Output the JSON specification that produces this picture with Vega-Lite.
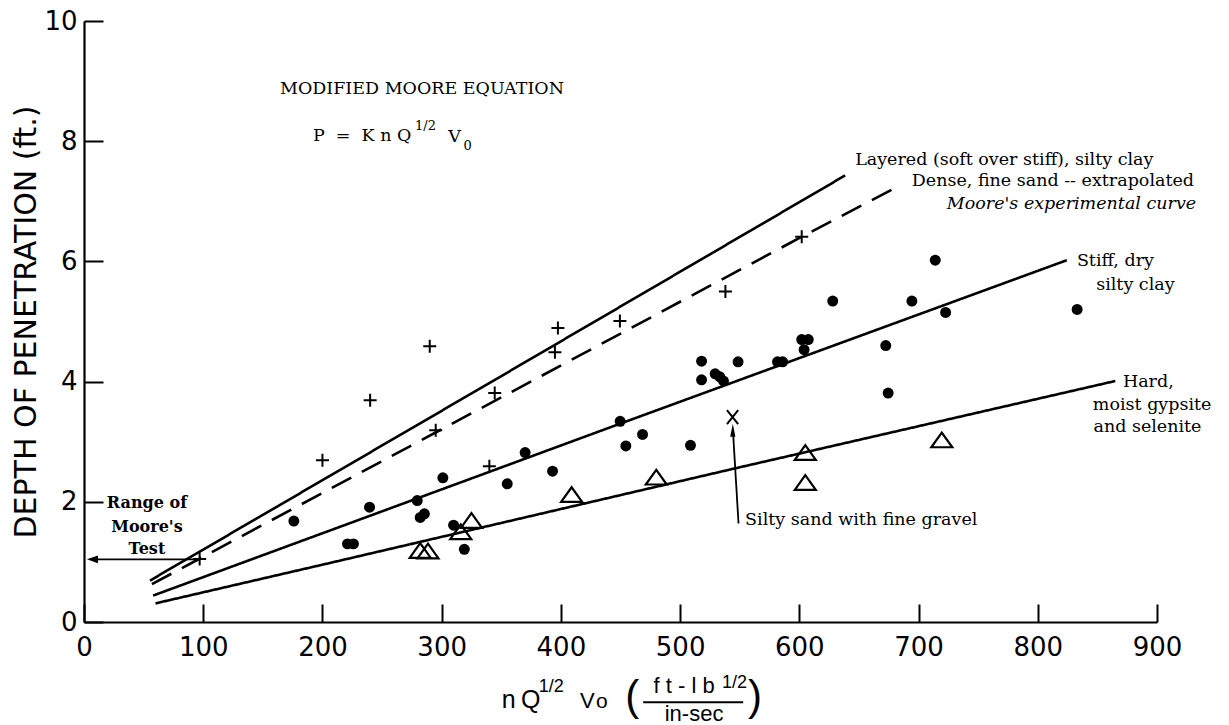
{
  "$schema": "https://vega.github.io/schema/vega-lite/v6.json",
  "width": 1073,
  "height": 601,
  "autosize": {"type": "none"},
  "padding": {"left": 84, "top": 21, "right": 72, "bottom": 103},
  "background": "white",
  "config": {"view": {"stroke": null}},
  "encoding": {
    "x": {
      "field": "x", "type": "quantitative",
      "scale": {"domain": [0, 900], "nice": false, "zero": false},
      "axis": {
        "values": [0, 100, 200, 300, 400, 500, 600, 700, 800, 900],
        "tickSize": -18, "tickWidth": 2, "tickColor": "black",
        "domainColor": "black", "domainWidth": 2.2,
        "labelFont": "DejaVu Sans", "labelFontSize": 26, "labelColor": "black",
        "labelPadding": 30, "labelFlush": false, "grid": false, "title": null
      }
    },
    "y": {
      "field": "y", "type": "quantitative",
      "scale": {"domain": [0, 10], "nice": false, "zero": false},
      "axis": {
        "values": [0, 2, 4, 6, 8, 10],
        "tickSize": -19, "tickWidth": 2, "tickColor": "black",
        "domainColor": "black", "domainWidth": 2.2,
        "labelFont": "DejaVu Sans", "labelFontSize": 26, "labelColor": "black",
        "labelPadding": 26, "labelFlush": false, "grid": false,
        "title": "DEPTH OF PENETRATION (ft.)",
        "titleFont": "DejaVu Sans", "titleFontSize": 30, "titleFontWeight": "normal",
        "titleColor": "black", "titleX": -49, "titleBaseline": "alphabetic"
      }
    }
  },
  "layer": [
    {
      "data": {"values": [
        {"curve": "layered", "x": 55.4, "y": 0.69},
        {"curve": "layered", "x": 349, "y": 4.08},
        {"curve": "layered", "x": 638.4, "y": 7.43},
        {"curve": "dense", "x": 57, "y": 0.63},
        {"curve": "dense", "x": 602, "y": 6.41},
        {"curve": "dense", "x": 686, "y": 7.28},
        {"curve": "stiff", "x": 58, "y": 0.44},
        {"curve": "stiff", "x": 332, "y": 2.44},
        {"curve": "stiff", "x": 449.7, "y": 3.3},
        {"curve": "stiff", "x": 824.4, "y": 6.02},
        {"curve": "hard", "x": 60, "y": 0.31},
        {"curve": "hard", "x": 203.6, "y": 0.97},
        {"curve": "hard", "x": 544.7, "y": 2.55},
        {"curve": "hard", "x": 865, "y": 4.01}
      ]},
      "mark": {"type": "line", "color": "black", "strokeWidth": 2.6},
      "encoding": {
        "detail": {"field": "curve"},
        "strokeDash": {
          "field": "curve", "type": "nominal",
          "scale": {"domain": ["layered", "dense", "stiff", "hard"], "range": [[1, 0], [22, 12], [1, 0], [1, 0]]},
          "legend": null
        }
      }
    },
    {
      "data": {"values": [
        {"x": 176, "y": 1.68}, {"x": 221, "y": 1.3}, {"x": 226, "y": 1.3},
        {"x": 239.5, "y": 1.91}, {"x": 279.5, "y": 2.02}, {"x": 282, "y": 1.74},
        {"x": 285.5, "y": 1.8}, {"x": 301, "y": 2.4}, {"x": 310, "y": 1.61},
        {"x": 319, "y": 1.21}, {"x": 355, "y": 2.3}, {"x": 370, "y": 2.82},
        {"x": 393, "y": 2.51}, {"x": 449.7, "y": 3.34}, {"x": 454.5, "y": 2.93},
        {"x": 468.5, "y": 3.12}, {"x": 508.7, "y": 2.94}, {"x": 518, "y": 4.34},
        {"x": 518, "y": 4.03}, {"x": 529.4, "y": 4.13}, {"x": 533.3, "y": 4.08},
        {"x": 536.4, "y": 4.01}, {"x": 548.6, "y": 4.33}, {"x": 581.7, "y": 4.33},
        {"x": 586, "y": 4.33}, {"x": 602, "y": 4.7}, {"x": 607.5, "y": 4.7},
        {"x": 604, "y": 4.53}, {"x": 628, "y": 5.34}, {"x": 672.5, "y": 4.6},
        {"x": 674.5, "y": 3.81}, {"x": 694.4, "y": 5.34}, {"x": 714, "y": 6.02},
        {"x": 722.7, "y": 5.15}, {"x": 833, "y": 5.2}
      ]},
      "mark": {"type": "point", "shape": "circle", "filled": true, "color": "black", "size": 120, "opacity": 1}
    },
    {
      "data": {"values": [
        {"x": 97, "y": 1.05}, {"x": 200, "y": 2.69}, {"x": 240, "y": 3.69},
        {"x": 290, "y": 4.59}, {"x": 295, "y": 3.19}, {"x": 340, "y": 2.59},
        {"x": 344.5, "y": 3.81}, {"x": 395, "y": 4.49}, {"x": 397.5, "y": 4.89},
        {"x": 449.5, "y": 5.01}, {"x": 538, "y": 5.5}, {"x": 602, "y": 6.41}
      ]},
      "mark": {"type": "point", "shape": "M-1,0H1M0,-1V1", "filled": false, "stroke": "black", "strokeWidth": 2, "size": 169, "opacity": 1}
    },
    {
      "data": {"values": [
        {"x": 282, "y": 1.19}, {"x": 288.5, "y": 1.18}, {"x": 316, "y": 1.5},
        {"x": 325, "y": 1.69}, {"x": 409, "y": 2.12}, {"x": 480, "y": 2.41},
        {"x": 605, "y": 2.82}, {"x": 605, "y": 2.32}, {"x": 719.5, "y": 3.03}
      ]},
      "mark": {"type": "point", "shape": "M-1,0.7L1,0.7L0,-0.7Z", "filled": false, "stroke": "black", "strokeWidth": 2.2, "size": 441, "opacity": 1}
    },
    {
      "data": {"values": [{"x": 544, "y": 3.41}]},
      "mark": {"type": "point", "shape": "M-0.8,-1L0.8,1M0.8,-1L-0.8,1", "filled": false, "stroke": "black", "strokeWidth": 2, "size": 196, "opacity": 1}
    },
    {
      "data": {"values": [
        {"x": 7, "y": 1.043, "x2": 95, "y2": 1.043},
        {"x": 544.3, "y": 3.19, "x2": 549, "y2": 1.64}
      ]},
      "mark": {"type": "rule", "color": "black", "strokeWidth": 1.8},
      "encoding": {"x2": {"field": "x2"}, "y2": {"field": "y2"}}
    },
    {
      "data": {"values": [{"x": 7.1, "y": 1.043}]},
      "mark": {"type": "point", "shape": "M-1,0L1,-0.7L1,0.7Z", "filled": true, "color": "black", "size": 121, "opacity": 1}
    },
    {
      "data": {"values": [{"x": 544.2, "y": 3.19}]},
      "mark": {"type": "point", "shape": "M0,-1L0.4,1L-0.4,1Z", "filled": true, "color": "black", "size": 169, "opacity": 1}
    },
    {
      "data": {"values": [
        {"x": 164.4, "y": 8.87, "label": "MODIFIED MOORE EQUATION"},
        {"x": 192, "y": 8.08, "label": "P\u00a0\u00a0=\u00a0\u00a0K\u00a0n\u00a0Q"},
        {"x": 305.5, "y": 8.07, "label": "V"},
        {"x": 646.8, "y": 7.68, "label": "Layered (soft over stiff), silty clay"},
        {"x": 694.3, "y": 7.33, "label": "Dense, fine sand -- extrapolated"},
        {"x": 832.8, "y": 6.01, "label": "Stiff, dry"},
        {"x": 849, "y": 5.61, "label": "silty clay"},
        {"x": 871.4, "y": 3.99, "label": "Hard,"},
        {"x": 846.2, "y": 3.61, "label": "moist gypsite"},
        {"x": 846.7, "y": 3.24, "label": "and selenite"},
        {"x": 554.5, "y": 1.69, "label": "Silty sand with fine gravel"}
      ]},
      "mark": {"type": "text", "align": "left", "baseline": "middle", "font": "DejaVu Serif", "fontSize": 17.5, "color": "black"},
      "encoding": {"text": {"field": "label"}}
    },
    {
      "data": {"values": [{"x": 723.7, "y": 6.96, "label": "Moore's experimental curve"}]},
      "mark": {"type": "text", "align": "left", "baseline": "middle", "font": "DejaVu Serif", "fontStyle": "italic", "fontSize": 17.5, "color": "black"},
      "encoding": {"text": {"field": "label"}}
    },
    {
      "data": {"values": [
        {"x": 52.8, "y": 1.975, "label": "Range of"},
        {"x": 52.8, "y": 1.584, "label": "Moore's"},
        {"x": 52.8, "y": 1.218, "label": "Test"}
      ]},
      "mark": {"type": "text", "align": "center", "baseline": "middle", "font": "DejaVu Serif", "fontWeight": "bold", "fontSize": 16, "color": "black"},
      "encoding": {"text": {"field": "label"}}
    },
    {
      "data": {"values": [
        {"x": 277.7, "y": 8.26, "label": "1/2"},
        {"x": 318.3, "y": 7.92, "label": "0"}
      ]},
      "mark": {"type": "text", "align": "left", "baseline": "middle", "font": "DejaVu Serif", "fontSize": 13, "color": "black"},
      "encoding": {"text": {"field": "label"}}
    },
    {
      "data": {"values": [
        {"x": 350.4, "y": -1.436, "label": "n"},
        {"x": 366.5, "y": -1.436, "label": "Q"}
      ]},
      "mark": {"type": "text", "align": "left", "baseline": "alphabetic", "font": "Liberation Sans", "fontSize": 25, "color": "black"},
      "encoding": {"text": {"field": "label"}}
    },
    {
      "data": {"values": [{"x": 416.1, "y": -1.436, "label": "V"}]},
      "mark": {"type": "text", "align": "left", "baseline": "alphabetic", "font": "Liberation Sans", "fontSize": 22, "color": "black"},
      "encoding": {"text": {"field": "label"}}
    },
    {
      "data": {"values": [{"x": 429.5, "y": -1.436, "label": "o"}]},
      "mark": {"type": "text", "align": "left", "baseline": "alphabetic", "font": "Liberation Sans", "fontSize": 21, "color": "black"},
      "encoding": {"text": {"field": "label"}}
    },
    {
      "data": {"values": [
        {"x": 381.5, "y": -1.17, "label": "1/2"},
        {"x": 535.2, "y": -1.103, "label": "1/2"}
      ]},
      "mark": {"type": "text", "align": "left", "baseline": "alphabetic", "font": "Liberation Sans", "fontSize": 18, "color": "black"},
      "encoding": {"text": {"field": "label"}}
    },
    {
      "data": {"values": [
        {"x": 503.4, "y": -1.186, "label": "f t - l b"},
        {"x": 511.7, "y": -1.64, "label": "in-sec"}
      ]},
      "mark": {"type": "text", "align": "center", "baseline": "alphabetic", "font": "Liberation Sans", "fontSize": 22, "color": "black"},
      "encoding": {"text": {"field": "label"}}
    },
    {
      "data": {"values": [
        {"x": 453.9, "y": -1.47, "label": "("},
        {"x": 557.0, "y": -1.47, "label": ")"}
      ]},
      "mark": {"type": "text", "align": "left", "baseline": "alphabetic", "font": "Liberation Sans", "fontSize": 42, "color": "black"},
      "encoding": {"text": {"field": "label"}}
    },
    {
      "data": {"values": [{"x": 469, "x2": 552.9, "y": -1.336}]},
      "mark": {"type": "rule", "color": "black", "strokeWidth": 2},
      "encoding": {"x2": {"field": "x2"}}
    }
  ]
}
